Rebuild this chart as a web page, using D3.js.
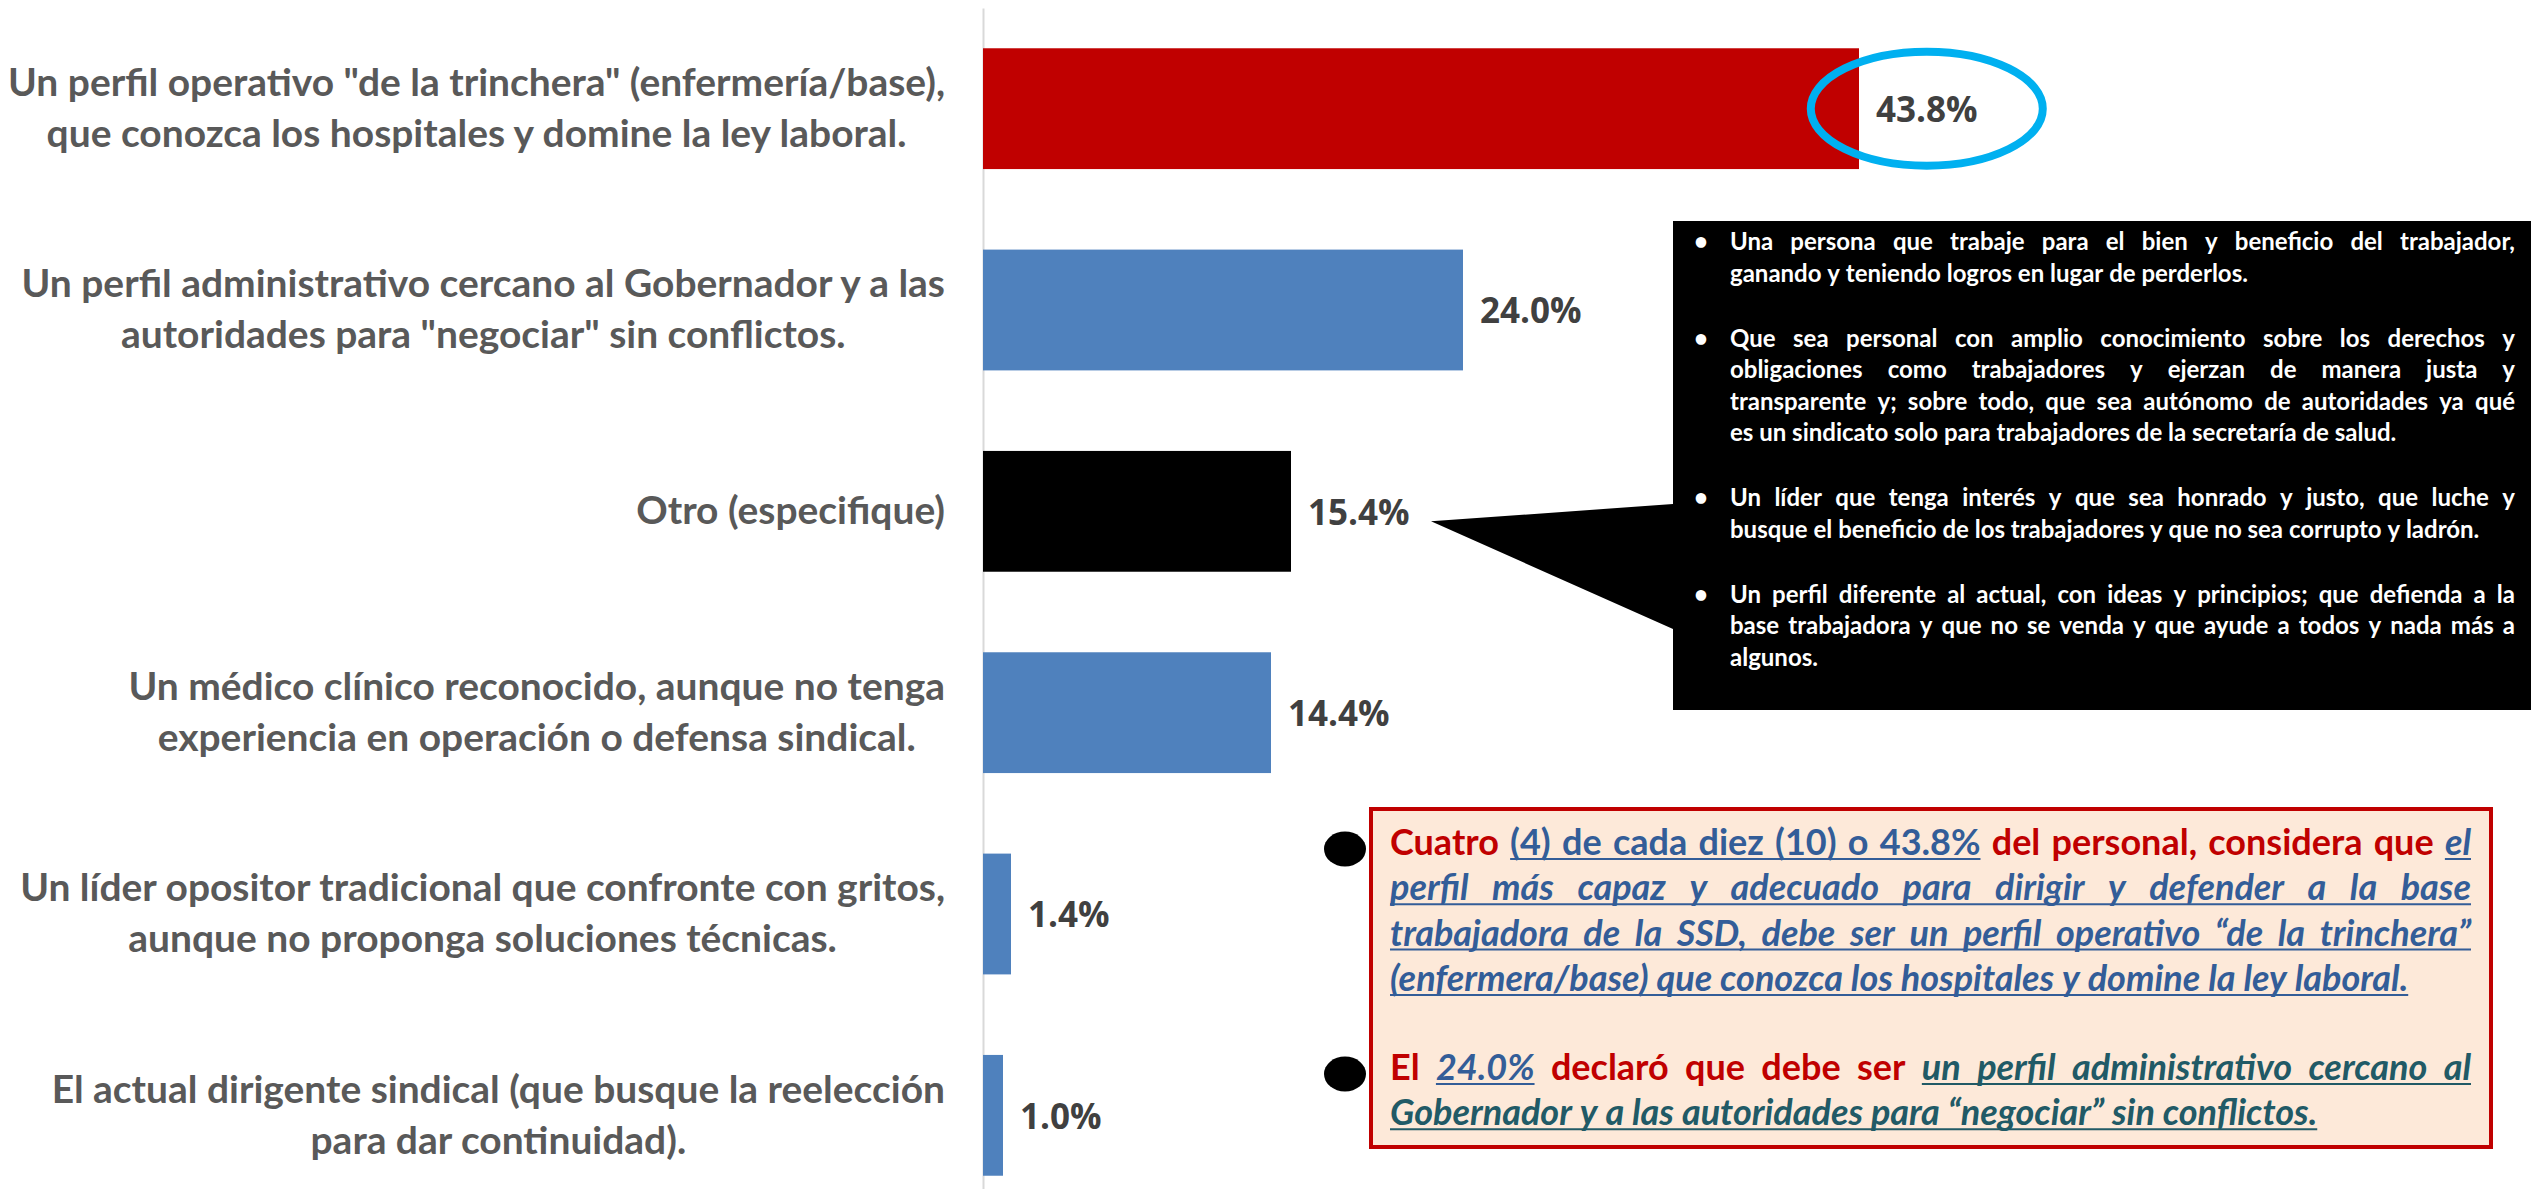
<!DOCTYPE html>
<html>
<head>
<meta charset="utf-8">
<script src="https://cdn.jsdelivr.net/npm/d3@7"></script>
<style>
  body { margin: 0; background: #fff; }
  svg { display: block; }
</style>
</head>
<body>
<div id="chart"></div>
<script>
// categories, split into the lines shown in the picture
var categoryLines = [
  ['Un perfil operativo "de la trinchera" (enfermería/base),', 'que conozca los hospitales y domine la ley laboral.'],
  ['Un perfil administrativo cercano al Gobernador y a las', 'autoridades para "negociar" sin conflictos.'],
  ['Otro (especifique)'],
  ['Un médico clínico reconocido, aunque no tenga', 'experiencia en operación o defensa sindical.'],
  ['Un líder opositor tradicional que confronte con gritos,', 'aunque no proponga soluciones técnicas.'],
  ['El actual dirigente sindical (que busque la reelección', 'para dar continuidad).']
];
var categories = categoryLines.map(function(l) { return l.join(" "); });
var values = [43.8, 24.0, 15.4, 14.4, 1.4, 1.0];
var barColors = ["#C00000", "#4F81BD", "#000000", "#4F81BD", "#4F81BD", "#4F81BD"];

// "Otro" answers in the black callout
var otherAnswers = [
  ["Una persona que trabaje para el bien y beneficio del trabajador,",
   "ganando y teniendo logros en lugar de perderlos."],
  ["Que sea personal con amplio conocimiento sobre los derechos y",
   "obligaciones como trabajadores y ejerzan de manera justa y",
   "transparente y; sobre todo, que sea autónomo de autoridades ya qué",
   "es un sindicato solo para trabajadores de la secretaría de salud."],
  ["Un líder que tenga interés y que sea honrado y justo, que luche y",
   "busque el beneficio de los trabajadores  y que no sea corrupto y ladrón."],
  ["Un perfil diferente al actual, con ideas y principios; que defienda a la",
   "base trabajadora y que no se venda y que ayude a todos y nada más a",
   "algunos."]
];

// summary notes, runs of [text, style]
var note1 = [
  [["Cuatro ", "r"], ["(4) de cada diez (10) o 43.8%", "b"], [" del personal, considera que ", "r"], ["el", "bi"]],
  [["perfil más capaz y adecuado para dirigir y defender a la base", "bi"]],
  [["trabajadora de la SSD, debe ser un perfil operativo “de la trinchera”", "bi"]],
  [["(enfermera/base) que conozca los hospitales y domine la ley laboral.", "bi"]]
];
var note2 = [
  [["El ", "r"], ["24.0%", "bi"], [" declaró que debe ser ", "r"], ["un perfil administrativo cercano al", "ti"]],
  [["Gobernador y a las autoridades para “negociar” sin conflictos.", "ti"]]
];

var W = 2531, H = 1189;
var svg = d3.select("#chart").append("svg").attr("width", W).attr("height", H);

var x = d3.scaleLinear().domain([0, 50]).range([983, 1983]);
var y = d3.scaleBand().domain(categories).range([8, 1216]).paddingInner(0.4).paddingOuter(0.2);

function styled(sel, st) {
  sel.attr("font-family", st.family).attr("font-size", st.size)
    .attr("font-weight", st.weight).attr("font-style", st.italic ? "italic" : "normal")
    .attr("fill", st.color);
}

// font size that makes `text` about `target` px wide (stands in for Calibri widths)
function fitSize(st, text, target) {
  var t = svg.append("text").text(text).call(styled, st);
  var w = t.node().getComputedTextLength();
  t.remove();
  return st.size * target / w;
}

// axis line
svg.append("g")
  .attr("transform", "translate(" + x(0) + ",0)")
  .call(d3.axisLeft(y).tickSize(0).tickSizeOuter(0).tickFormat(""))
  .call(function(g) { g.select(".domain").attr("stroke", "#D9D9D9").attr("stroke-width", 2); });

// bars
svg.selectAll(".bar").data(values).join("rect")
  .attr("class", "bar")
  .attr("x", x(0))
  .attr("y", function(d, i) { return y(categories[i]); })
  .attr("width", function(d) { return x(d) - x(0); })
  .attr("height", y.bandwidth())
  .attr("fill", function(d, i) { return barColors[i]; });

// value labels
var valueLabels = svg.selectAll(".val").data(values).join("text")
  .attr("class", "val")
  .attr("x", function(d) { return x(d) + 17; })
  .attr("y", function(d, i) { return y(categories[i]) + y.bandwidth() / 2; })
  .attr("dy", "0.38em")
  .attr("font-family", "Open Sans").attr("font-weight", 700).attr("font-size", 35)
  .attr("fill", "#404040")
  .text(function(d) { return d.toFixed(1) + "%"; });

// category labels: centred block whose right edge sits at labelRight
var labelRight = 945, lineStep = 51;
var labelStyle = { family: "Lato", size: 35, weight: 700, color: "#595959" };
labelStyle.size = fitSize(labelStyle, categoryLines[0][0], 937);
categoryLines.forEach(function(lines, i) {
  var g = svg.append("g");
  var yc = y(categories[i]) + y.bandwidth() / 2;
  var texts = lines.map(function(t, j) {
    return g.append("text")
      .attr("y", yc + (j - (lines.length - 1) / 2) * lineStep)
      .attr("dy", "0.33em")
      .attr("text-anchor", "middle")
      .call(styled, labelStyle)
      .text(t);
  });
  var maxW = d3.max(texts, function(t) { return t.node().getComputedTextLength(); });
  texts.forEach(function(t) { t.attr("x", labelRight - maxW / 2); });
});

// highlight ellipse round the top value
var topLabel = valueLabels.filter(function(d, i) { return i === 0; });
var topBox = topLabel.node().getBBox();
svg.append("ellipse")
  .attr("cx", topBox.x + topBox.width / 2)
  .attr("cy", y(categories[0]) + y.bandwidth() / 2)
  .attr("rx", 116).attr("ry", 57)
  .attr("fill", "none").attr("stroke", "#00B0F0").attr("stroke-width", 8);

// justified line helper
function spaceWidth(g, st) {
  var a = g.append("text").text("a a").call(styled, st);
  var b = g.append("text").text("aa").call(styled, st);
  var s = a.node().getComputedTextLength() - b.node().getComputedTextLength();
  a.remove(); b.remove();
  return s;
}
function layoutLine(g, runs, x0, width, base, justify, styles) {
  var words = [];
  runs.forEach(function(r, ri) {
    r[0].split(/\s+/).forEach(function(w) {
      if (w) words.push({ text: w, st: styles[r[1]], run: ri });
    });
  });
  words.forEach(function(w) {
    w.node = g.append("text").text(w.text).attr("y", base).call(styled, w.st);
    w.width = w.node.node().getComputedTextLength();
  });
  var total = d3.sum(words, function(w) { return w.width; });
  var gap = justify && words.length > 1 ? (width - total) / (words.length - 1) : spaceWidth(g, words[0].st);
  var cx = x0;
  words.forEach(function(w) { w.x = cx; w.node.attr("x", cx); cx += w.width + gap; });
  var i = 0;
  while (i < words.length) {
    if (!words[i].st.underline) { i++; continue; }
    var j = i;
    while (j + 1 < words.length && words[j + 1].run === words[i].run) j++;
    g.append("line")
      .attr("x1", words[i].x).attr("x2", words[j].x + words[j].width)
      .attr("y1", base + 4).attr("y2", base + 4)
      .attr("stroke", words[i].st.color).attr("stroke-width", 2);
    i = j + 1;
  }
}

// black callout pointing at "Otro"
var otroY = y(categories[2]) + y.bandwidth() / 2;
var tipX = x(values[2]) + 140;
svg.append("path")
  .attr("d", "M1673,221H2531V710H1673V629L" + tipX + "," + (otroY + 10) + "L1673,504Z")
  .attr("fill", "#000");

var calloutStyles = { w: { family: "Lato", size: 21, weight: 700, color: "#fff" } };
calloutStyles.w.size = Math.min(24, fitSize(calloutStyles.w, otherAnswers[1][3], 696));
var cg = svg.append("g");
var base = 250;
otherAnswers.forEach(function(para) {
  cg.append("text").attr("x", 1694).attr("y", base).text("•").call(styled, calloutStyles.w);
  para.forEach(function(line, k) {
    layoutLine(cg, [[line, "w"]], 1730, 785, base, k < para.length - 1, calloutStyles);
    base += 31.5;
  });
  base += 33.5;
});

// summary box
svg.append("rect")
  .attr("x", 1371).attr("y", 809).attr("width", 1120).attr("height", 338)
  .attr("fill", "#FDE9D9").attr("stroke", "#C00000").attr("stroke-width", 4);

var noteSize = fitSize({ family: "Lato", size: 30, weight: 700, italic: true, color: "#000" }, note1[3][0][0], 1061);
noteSize = Math.min(36, noteSize);
var noteStyles = {
  r:  { family: "Lato", size: noteSize, weight: 700, color: "#C00000" },
  b:  { family: "Lato", size: noteSize, weight: 700, color: "#335D98", underline: true },
  bi: { family: "Lato", size: noteSize, weight: 700, color: "#335D98", underline: true, italic: true },
  ti: { family: "Lato", size: noteSize, weight: 700, color: "#215A66", underline: true, italic: true }
};
var ng = svg.append("g");
[[note1, 855], [note2, 1080]].forEach(function(n) {
  svg.append("ellipse").attr("cx", 1345).attr("cy", n[1] - 6).attr("rx", 21).attr("ry", 17.5).attr("fill", "#000");
  n[0].forEach(function(line, k) {
    layoutLine(ng, line, 1390, 1081, n[1] + k * 45.3, k < n[0].length - 1, noteStyles);
  });
});
</script>
</body>
</html>
